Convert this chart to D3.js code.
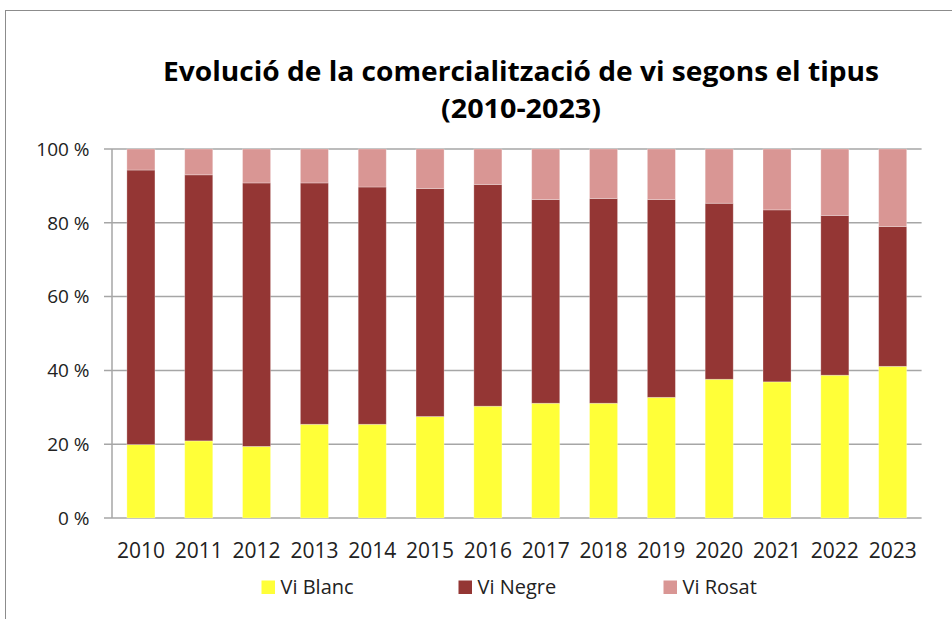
<!DOCTYPE html>
<html>
<head>
<meta charset="utf-8">
<script src="https://cdn.jsdelivr.net/npm/d3@7"></script>
<style>
  body { margin: 0; background: #fff; }
  svg { display: block; font-family: "Open Sans", "Noto Sans", sans-serif; }
</style>
</head>
<body>
<svg id="chart" width="952" height="619"></svg>
<script>
const years = ['2010','2011','2012','2013','2014','2015','2016','2017','2018','2019','2020','2021','2022','2023'];
const viBlanc = [19.9, 20.9, 19.4, 25.4, 25.4, 27.5, 30.3, 31.1, 31.1, 32.7, 37.6, 36.9, 38.7, 41.1];
const viNegre = [74.4, 72.1, 71.4, 65.4, 64.3, 61.8, 60.1, 55.2, 55.5, 53.6, 47.7, 46.6, 43.3, 37.9];
const viRosat = [5.7, 7.0, 9.2, 9.2, 10.3, 10.7, 9.6, 13.7, 13.4, 13.7, 14.7, 16.5, 18.0, 21.0];
const yTicks = [0, 20, 40, 60, 80, 100];
const seriesNames = ['Vi Blanc', 'Vi Negre', 'Vi Rosat'];
const colors = ['#ffff38', '#943634', '#d99694'];

const svg = d3.select('#chart');

// frame round the chart
svg.append('rect')
  .attr('x', 5.5).attr('y', 10.5)
  .attr('width', 1000).attr('height', 700)
  .attr('fill', 'none')
  .attr('stroke', '#8c8c8c')
  .attr('stroke-width', 1);

// title
const title = svg.append('g').attr('font-weight', 'bold').attr('fill', '#000').attr('text-anchor', 'middle');
title.append('text').attr('x', 521).attr('y', 81).attr('font-size', 26)
  .attr('textLength', 716).attr('lengthAdjust', 'spacingAndGlyphs')
  .text('Evolució de la comercialització de vi segons el tipus');
title.append('text').attr('x', 521).attr('y', 118).attr('font-size', 26)
  .attr('textLength', 160).attr('lengthAdjust', 'spacingAndGlyphs')
  .text('(2010-2023)');

const plotLeft = 112, plotRight = 921.6, plotTop = 149, plotBottom = 518;

const x = d3.scaleBand().domain(years).range([plotLeft, plotRight]).paddingInner(0.515).paddingOuter(0.2575);
const y = d3.scaleLinear().domain([0, 100]).range([plotBottom, plotTop]);

// gridlines
svg.append('g')
  .selectAll('line')
  .data(yTicks)
  .join('line')
  .attr('x1', plotLeft - 8).attr('x2', plotRight)
  .attr('y1', d => y(d)).attr('y2', d => y(d))
  .attr('stroke', '#a6a6a6')
  .attr('stroke-width', 1.5);

// stacked bars
const table = years.map((yr, i) => ({ year: yr, 'Vi Blanc': viBlanc[i], 'Vi Negre': viNegre[i], 'Vi Rosat': viRosat[i] }));
const stack = d3.stack().keys(seriesNames)(table);

svg.append('g')
  .selectAll('g')
  .data(stack)
  .join('g')
  .attr('fill', (d, i) => colors[i])
  .selectAll('rect')
  .data(d => d)
  .join('rect')
  .attr('x', d => x(d.data.year))
  .attr('y', d => y(d[1]))
  .attr('width', x.bandwidth())
  .attr('height', d => y(d[0]) - y(d[1]))
  .attr('stroke', 'rgba(255,255,255,0.35)')
  .attr('stroke-width', 0.8);

// y axis line
svg.append('line')
  .attr('x1', plotLeft).attr('x2', plotLeft)
  .attr('y1', plotTop).attr('y2', plotBottom)
  .attr('stroke', '#a6a6a6')
  .attr('stroke-width', 1.5);

// y tick labels
svg.append('g')
  .selectAll('text')
  .data(yTicks)
  .join('text')
  .attr('x', 89.5)
  .attr('y', d => y(d) + 6.7)
  .attr('text-anchor', 'end')
  .attr('font-size', 19)
  .attr('fill', '#222')
  .text(d => d + ' %');

// x tick labels
svg.append('g')
  .selectAll('text')
  .data(years)
  .join('text')
  .attr('x', d => x(d) + x.bandwidth() / 2)
  .attr('y', 557.7)
  .attr('text-anchor', 'middle')
  .attr('font-size', 21)
  .attr('fill', '#222')
  .text(d => d);

// legend
const legendX = [261.5, 458.5, 663.5];
const legend = svg.append('g')
  .selectAll('g')
  .data(seriesNames)
  .join('g')
  .attr('transform', (d, i) => `translate(${legendX[i]},580.5)`);
legend.append('rect')
  .attr('width', 13.5).attr('height', 13.5)
  .attr('fill', (d, i) => colors[i]);
legend.append('text')
  .attr('x', 19).attr('y', 13)
  .attr('font-size', 20)
  .attr('fill', '#222')
  .text(d => d);
</script>
</body>
</html>
